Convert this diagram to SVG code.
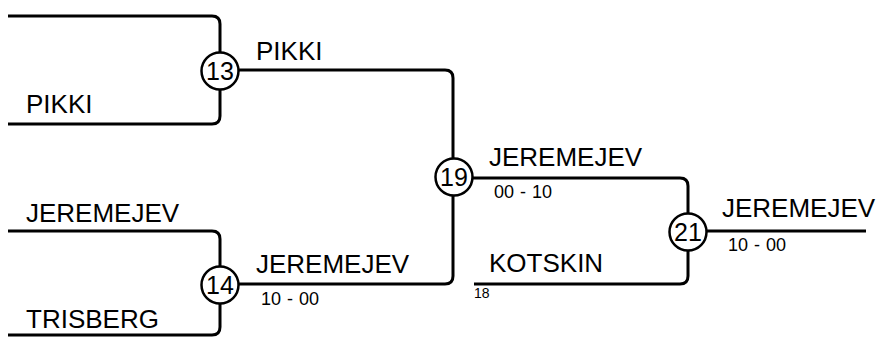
<svg xmlns="http://www.w3.org/2000/svg" width="882" height="338" viewBox="0 0 882 338">
<style>
.ln{fill:none;stroke:#000;stroke-width:3}
.nd{fill:#fff;stroke:#000;stroke-width:2.5}
.t{font-family:"Liberation Sans",Arial,sans-serif;font-size:26px;fill:#000}
.s{font-family:"Liberation Sans",Arial,sans-serif;font-size:18px;word-spacing:1px;fill:#000}
.xs{font-family:"Liberation Sans",Arial,sans-serif;font-size:14px;fill:#000}
.n{font-family:"Liberation Sans",Arial,sans-serif;font-size:25px;fill:#000;text-anchor:middle}
</style>
<rect width="882" height="338" fill="#fff"/>
<g id="connectors">
<path class="ln" d="M8 16 H212 Q220 16 220 24 V116 Q220 124 212 124 H8"/>
<path class="ln" d="M8 231 H212 Q220 231 220 239 V327 Q220 335 212 335 H8"/>
<path class="ln" d="M220 70 H445 Q453 70 453 78 V276 Q453 284 445 284 H220"/>
<path class="ln" d="M453 178 H680 Q688 178 688 186 V276 Q688 284 680 284 H474"/>
<path class="ln" d="M688 231 H866"/>
</g>
<g id="node13"><circle class="nd" cx="220" cy="71" r="18.5"/><text class="n" x="220" y="80">13</text></g>
<g id="node14"><circle class="nd" cx="220" cy="285" r="18.5"/><text class="n" x="220" y="294">14</text></g>
<g id="node19"><circle class="nd" cx="454" cy="177" r="18.5"/><text class="n" x="454" y="186">19</text></g>
<g id="node21"><circle class="nd" cx="688" cy="232" r="18.5"/><text class="n" x="688" y="241">21</text></g>
<g id="labels">
<text class="t" x="26" y="113">PIKKI</text>
<text class="t" x="256" y="60">PIKKI</text>
<text class="t" x="26" y="221.5">JEREMEJEV</text>
<text class="t" x="26" y="328">TRISBERG</text>
<text class="t" x="256" y="273">JEREMEJEV</text>
<text class="s" x="261" y="305">10 - 00</text>
<text class="t" x="489" y="166">JEREMEJEV</text>
<text class="s" x="494" y="198">00 - 10</text>
<text class="t" x="489" y="272">KOTSKIN</text>
<text class="xs" x="474" y="298">18</text>
<text class="t" x="722" y="216.5">JEREMEJEV</text>
<text class="s" x="728" y="251">10 - 00</text>
</g>
</svg>
